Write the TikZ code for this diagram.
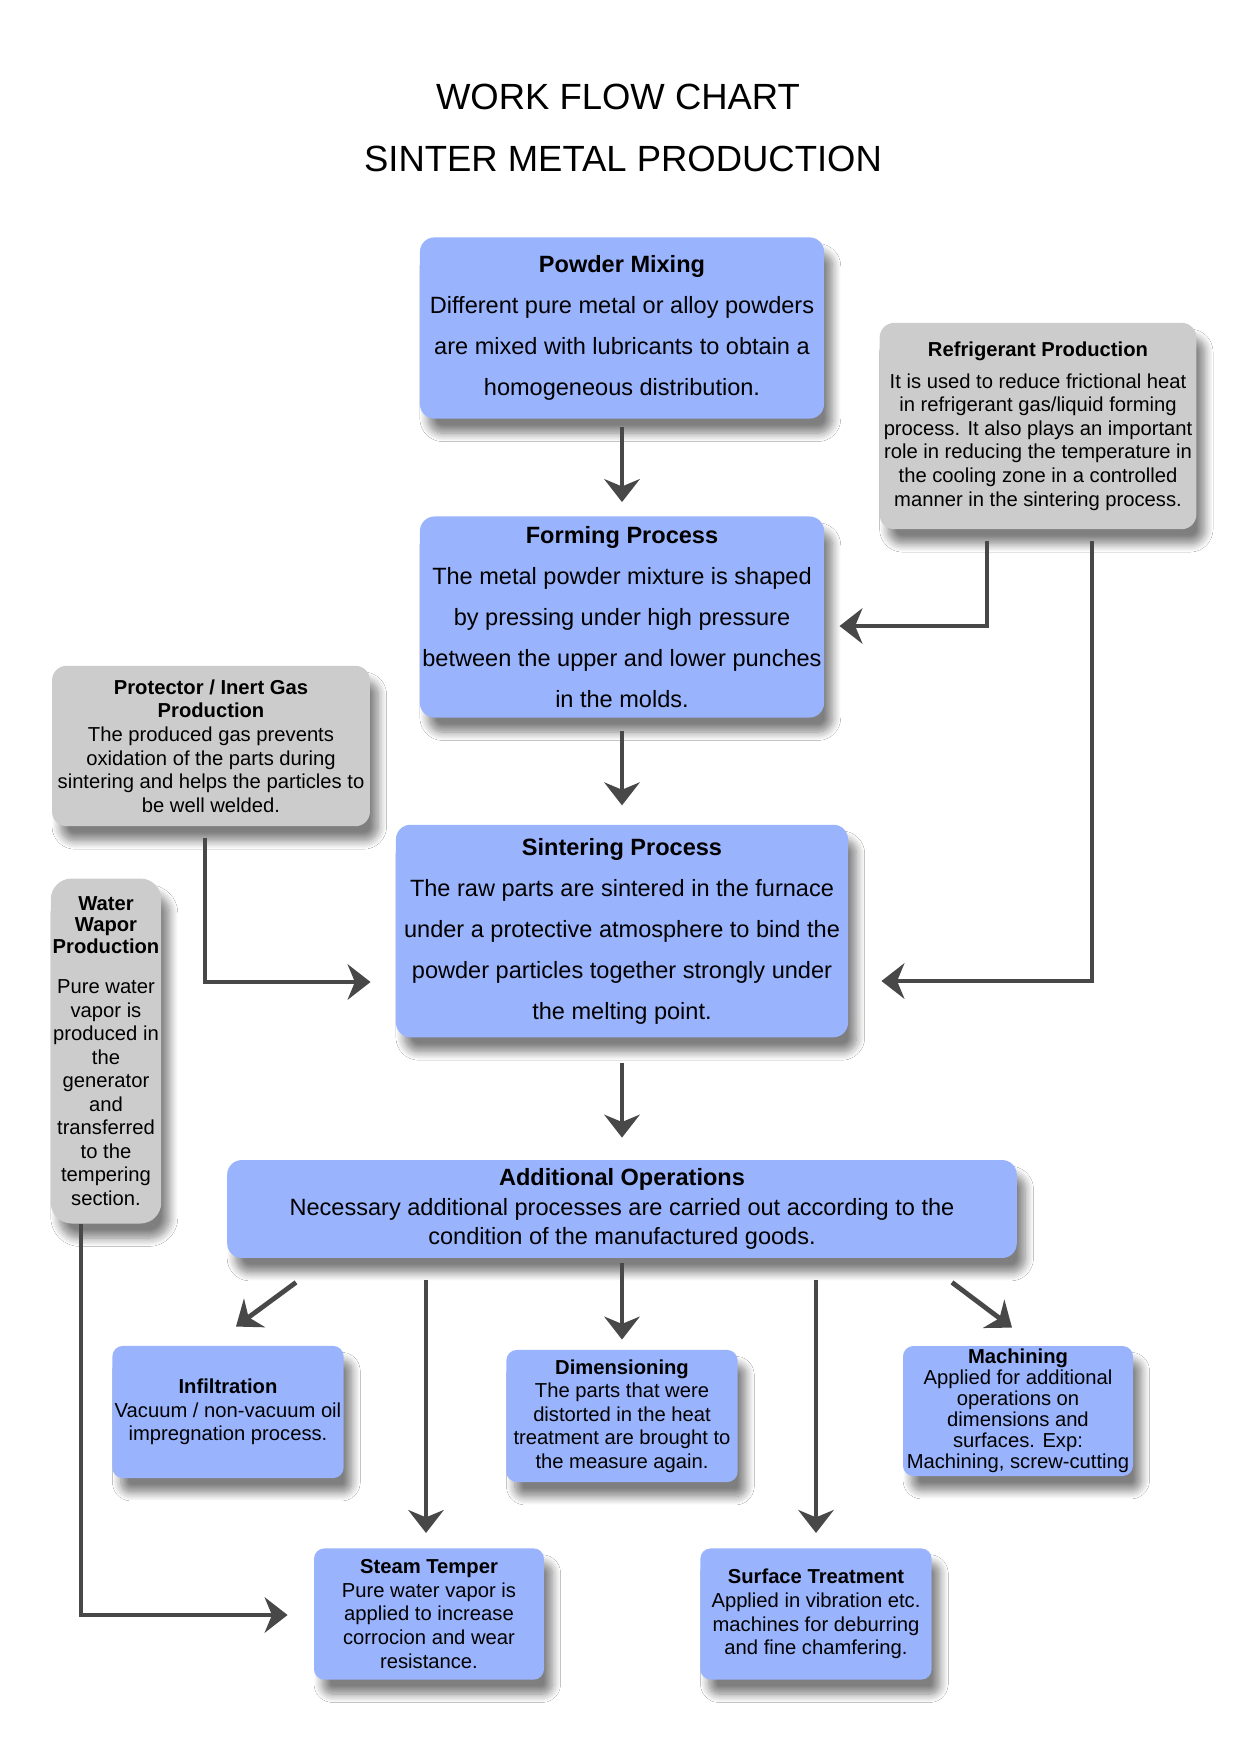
\documentclass[tikz,border=0pt]{standalone}
\usepackage{fontspec}
\setmainfont{Liberation Sans}
\usepackage{tikz}
\usetikzlibrary{arrows.meta}
\usetikzlibrary{shadows.blur}
\usepackage{xcolor}
\definecolor{boxblue}{RGB}{153,179,252}
\definecolor{boxgrey}{RGB}{204,204,204}
\definecolor{arrowgrey}{RGB}{72,72,72}

\begin{document}
\begin{tikzpicture}[x=0.48pt, y=-0.48pt, main/.style = {rounded corners=7pt, align=center, inner sep=1pt, blur shadow={shadow xshift=4pt, shadow yshift=-7pt, shadow blur radius=4pt, shadow blur steps=10, shadow opacity=50}}, bluebox/.style = {main, fill=boxblue}, greybox/.style = {main, fill=boxgrey}, big/.style = {font=\fontsize{11.3}{19.7}\selectfont}, small/.style = {font=\fontsize{9.7}{11.3}\selectfont}, arr/.style = {draw=arrowgrey, line width=2.3pt, -{Stealth[length=11pt, width=17pt, inset=3.5pt]}}]
  \fill[white] (0,0) rectangle (1240,1754);
  \useasboundingbox (0,0) rectangle (1240,1754);
  \node[font=\fontsize{17.5}{21}\selectfont] (t1) at (618,97) {WORK FLOW CHART};
  \node[font=\fontsize{17.5}{21}\selectfont] (t2) at (623,159) {SINTER METAL PRODUCTION};
  \node[bluebox, big, minimum width=194pt, minimum height=87pt] (1) at (622,328) {\textbf{Powder Mixing}\\Different pure metal or alloy powders\\are mixed with lubricants to obtain a\\homogeneous distribution.};
  \node[greybox, small, minimum width=152pt, minimum height=99pt] (2) at (1038,426) {\textbf{Refrigerant Production}\\[4pt]It is used to reduce frictional heat\\in refrigerant gas/liquid forming\\process. It also plays an important\\role in reducing the temperature in\\the cooling zone in a controlled\\manner in the sintering process.};
  \node[bluebox, big, minimum width=194pt, minimum height=96.5pt] (3) at (622,617) {\textbf{Forming Process}\\The metal powder mixture is shaped\\by pressing under high pressure\\between the upper and lower punches\\in the molds.};
  \node[greybox, small, minimum width=152.6pt, minimum height=77pt] (4) at (211,746) {\textbf{Protector / Inert Gas}\\\textbf{Production}\\The produced gas prevents\\oxidation of the parts during\\sintering and helps the particles to\\be well welded.};
  \node[bluebox, big, minimum width=217pt, minimum height=102pt] (5) at (622,931) {\textbf{Sintering Process}\\The raw parts are sintered in the furnace\\under a protective atmosphere to bind the\\powder particles together strongly under\\the melting point.};
  \node[greybox, small, rounded corners=10pt, inner sep=0pt, minimum width=53pt, minimum height=165.6pt] (6) at (106,1051) {\textbf{Water}\\[-1pt]\textbf{Wapor}\\[-1pt]\textbf{Production}\\[8pt]Pure water\\vapor is\\produced in\\the\\generator\\and\\transferred\\to the\\tempering\\section.};
  \node[bluebox, font=\fontsize{11.3}{14}\selectfont, minimum width=379pt, minimum height=47pt] (7) at (622,1209) {\textbf{Additional Operations}\\Necessary additional processes are carried out according to the\\condition of the manufactured goods.};
  \node[bluebox, small, rounded corners=5pt, minimum width=111pt, minimum height=63.4pt] (8) at (228,1412) {\textbf{Infiltration}\\Vacuum / non-vacuum oil\\impregnation process.};
  \node[bluebox, small, rounded corners=5pt, minimum width=111pt, minimum height=63.4pt] (9) at (622,1416) {\textbf{Dimensioning}\\The parts that were\\distorted in the heat\\treatment are brought to\\the measure again.};
  \node[bluebox, font=\fontsize{9.7}{10.1}\selectfont, rounded corners=5pt, minimum width=110.4pt, minimum height=62.4pt] (10) at (1018,1411) {\textbf{Machining}\\Applied for additional\\operations on\\dimensions and\\surfaces. Exp:\\Machining, screw-cutting};
  \node[bluebox, small, rounded corners=5pt, minimum width=110.4pt, minimum height=63pt] (11) at (429,1614) {\textbf{Steam Temper}\\Pure water vapor is\\applied to increase\\corrocion and wear\\resistance.};
  \node[bluebox, small, rounded corners=5pt, minimum width=111pt, minimum height=63pt] (12) at (816,1614) {\textbf{Surface Treatment}\\Applied in vibration etc.\\machines for deburring\\and fine chamfering.};
  \draw[arr] ([shift={(0,8)}]1.south) -- ([shift={(0,-14)}]3.north);
  \draw[arr] ([shift={(0,13)}]3.south) -- ([shift={(0,-19)}]5.north);
  \draw[arr] ([shift={(0,25)}]5.south) -- ([shift={(0,-22)}]7.north);
  \draw[arr] ([shift={(-51,11)}]2.south) |- ([shift={(15,9)}]3.east);
  \draw[arr] ([shift={(54,11)}]2.south) |- ([shift={(33,50)}]5.east);
  \draw[arr] ([shift={(-6,11)}]4.south) |- ([shift={(-25,51)}]5.west);
  \draw[arr] ([shift={(-25,0)}]6.south) |- ([shift={(-26,1)}]11.west);
  \draw[arr] ([shift={(-326,24)}]7.south) -- ([shift={(8,-19)}]8.north);
  \draw[arr] ([shift={(-196,22)}]7.south) -- ([shift={(-3,-15)}]11.north);
  \draw[arr] ([shift={(0,5)}]7.south) -- ([shift={(0,-10)}]9.north);
  \draw[arr] ([shift={(194,22)}]7.south) -- ([shift={(0,-15)}]12.north);
  \draw[arr] ([shift={(330,24)}]7.south) -- ([shift={(-6,-18)}]10.north);
\end{tikzpicture}
\end{document}
